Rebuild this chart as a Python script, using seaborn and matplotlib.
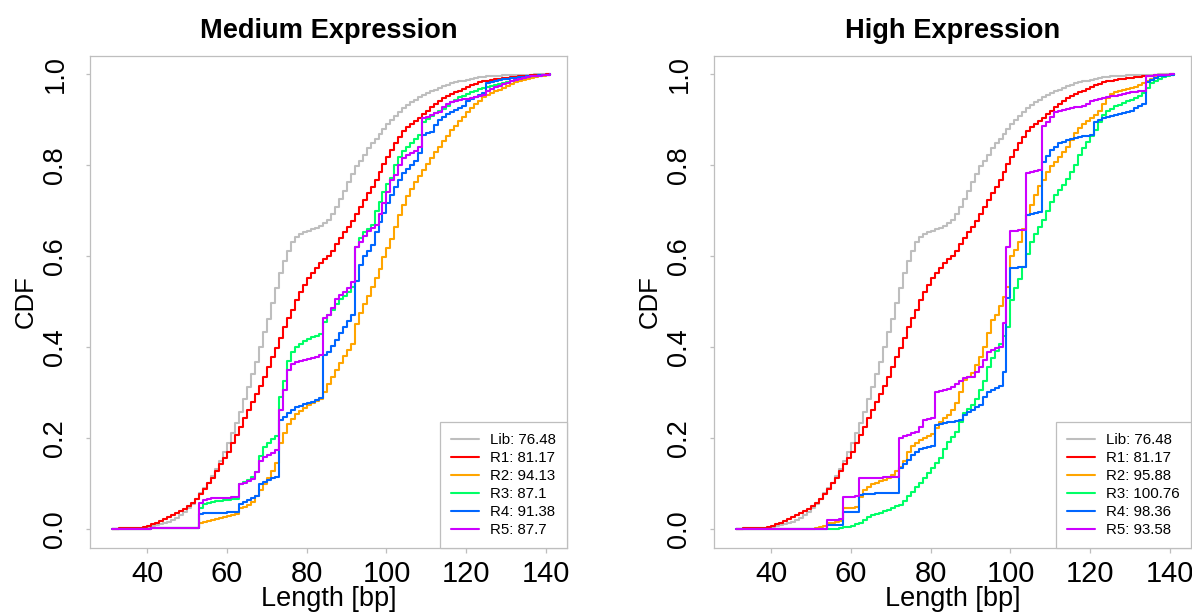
import matplotlib
matplotlib.use("Agg")
import matplotlib.pyplot as plt
from matplotlib.lines import Line2D
from matplotlib import font_manager
import numpy as np
import pandas as pd
import seaborn as sns

# ---------------- data ----------------
lengths = list(range(31, 142))  # read-length in bp

lib_cdf = [
    0.000, 0.000, 0.001, 0.001, 0.001, 0.002, 0.002, 0.003, 0.003, 0.004,
    0.006, 0.008, 0.010, 0.013, 0.016, 0.020, 0.025, 0.030, 0.037, 0.045,
    0.054, 0.065, 0.078, 0.090, 0.102, 0.116, 0.132, 0.150, 0.170, 0.190,
    0.210, 0.232, 0.258, 0.285, 0.313, 0.340, 0.368, 0.400, 0.432, 0.462,
    0.497, 0.530, 0.562, 0.590, 0.612, 0.630, 0.642, 0.648, 0.652, 0.656,
    0.659, 0.662, 0.666, 0.672, 0.680, 0.692, 0.708, 0.725, 0.743, 0.762,
    0.780, 0.797, 0.810, 0.823, 0.837, 0.848, 0.858, 0.868, 0.879, 0.890,
    0.900, 0.909, 0.917, 0.925, 0.932, 0.938, 0.944, 0.949, 0.954, 0.958,
    0.962, 0.966, 0.970, 0.974, 0.977, 0.980, 0.982, 0.984, 0.986, 0.988,
    0.990, 0.992, 0.993, 0.994, 0.995, 0.996, 0.997, 0.997, 0.998, 0.998,
    0.998, 0.999, 0.999, 0.999, 0.999, 0.999, 1.000, 1.000, 1.000, 1.000, 1.000,
]

r1_cdf = [
    0.000, 0.000, 0.001, 0.001, 0.001, 0.002, 0.002, 0.003, 0.004, 0.006,
    0.010, 0.014, 0.018, 0.022, 0.026, 0.030, 0.034, 0.039, 0.044, 0.050,
    0.057, 0.066, 0.076, 0.088, 0.100, 0.112, 0.127, 0.142, 0.156, 0.170,
    0.188, 0.207, 0.225, 0.243, 0.261, 0.278, 0.296, 0.315, 0.335, 0.356,
    0.377, 0.397, 0.420, 0.443, 0.463, 0.482, 0.503, 0.522, 0.537, 0.551,
    0.563, 0.574, 0.584, 0.593, 0.601, 0.612, 0.626, 0.640, 0.652, 0.665,
    0.678, 0.692, 0.708, 0.724, 0.739, 0.753, 0.768, 0.785, 0.802, 0.818,
    0.833, 0.848, 0.862, 0.874, 0.883, 0.890, 0.897, 0.904, 0.912, 0.920,
    0.928, 0.935, 0.941, 0.947, 0.952, 0.956, 0.960, 0.964, 0.968, 0.972,
    0.976, 0.979, 0.982, 0.984, 0.986, 0.987, 0.989, 0.990, 0.991, 0.992,
    0.993, 0.994, 0.995, 0.996, 0.997, 0.998, 0.998, 0.999, 0.999, 1.000, 1.000,
]

# ---- Medium Expression ----
med_r2_cdf = [
    0.000, 0.000, 0.000, 0.000, 0.000, 0.000, 0.000, 0.000, 0.000, 0.000,
    0.001, 0.001, 0.001, 0.001, 0.001, 0.001, 0.001, 0.001, 0.001, 0.001,
    0.001, 0.001, 0.014, 0.016, 0.018, 0.020, 0.022, 0.024, 0.027, 0.029,
    0.031, 0.033, 0.045, 0.049, 0.053, 0.060, 0.072, 0.085, 0.098, 0.112,
    0.128, 0.145, 0.188, 0.210, 0.230, 0.242, 0.252, 0.260, 0.266, 0.272,
    0.277, 0.281, 0.286, 0.300, 0.318, 0.335, 0.350, 0.365, 0.380, 0.393,
    0.407, 0.450, 0.475, 0.495, 0.513, 0.532, 0.552, 0.572, 0.597, 0.618,
    0.637, 0.665, 0.690, 0.713, 0.733, 0.748, 0.762, 0.776, 0.790, 0.803,
    0.816, 0.828, 0.840, 0.852, 0.865, 0.877, 0.887, 0.897, 0.906, 0.916,
    0.925, 0.934, 0.942, 0.949, 0.954, 0.958, 0.962, 0.966, 0.970, 0.974,
    0.978, 0.982, 0.985, 0.988, 0.990, 0.992, 0.993, 0.995, 0.997, 0.998, 1.000,
]

med_r3_cdf = [
    0.000, 0.000, 0.000, 0.000, 0.000, 0.000, 0.000, 0.000, 0.000, 0.000,
    0.002, 0.002, 0.002, 0.002, 0.002, 0.002, 0.002, 0.002, 0.002, 0.002,
    0.002, 0.002, 0.045, 0.055, 0.058, 0.060, 0.061, 0.062, 0.063, 0.064,
    0.065, 0.066, 0.098, 0.104, 0.108, 0.115, 0.125, 0.160, 0.180, 0.190,
    0.197, 0.205, 0.290, 0.325, 0.370, 0.388, 0.400, 0.407, 0.413, 0.418,
    0.422, 0.425, 0.428, 0.456, 0.470, 0.482, 0.494, 0.505, 0.513, 0.522,
    0.532, 0.620, 0.640, 0.652, 0.660, 0.668, 0.700, 0.718, 0.742, 0.758,
    0.772, 0.800, 0.818, 0.832, 0.840, 0.848, 0.858, 0.866, 0.895, 0.902,
    0.908, 0.914, 0.919, 0.924, 0.931, 0.938, 0.944, 0.949, 0.953, 0.957,
    0.961, 0.964, 0.967, 0.970, 0.972, 0.974, 0.976, 0.978, 0.981, 0.983,
    0.985, 0.988, 0.990, 0.992, 0.994, 0.995, 0.996, 0.997, 0.998, 0.999, 1.000,
]

med_r4_cdf = [
    0.000, 0.000, 0.000, 0.000, 0.000, 0.000, 0.000, 0.000, 0.000, 0.000,
    0.002, 0.002, 0.002, 0.002, 0.002, 0.002, 0.002, 0.002, 0.002, 0.002,
    0.002, 0.002, 0.032, 0.034, 0.035, 0.035, 0.036, 0.036, 0.036, 0.037,
    0.037, 0.037, 0.055, 0.060, 0.064, 0.068, 0.072, 0.098, 0.104, 0.108,
    0.112, 0.115, 0.240, 0.247, 0.254, 0.262, 0.267, 0.271, 0.274, 0.277,
    0.280, 0.283, 0.287, 0.382, 0.390, 0.402, 0.415, 0.430, 0.443, 0.458,
    0.470, 0.545, 0.580, 0.600, 0.612, 0.624, 0.652, 0.675, 0.695, 0.716,
    0.735, 0.752, 0.768, 0.782, 0.792, 0.800, 0.808, 0.826, 0.866, 0.870,
    0.873, 0.888, 0.900, 0.906, 0.912, 0.917, 0.922, 0.926, 0.930, 0.940,
    0.946, 0.950, 0.954, 0.958, 0.980, 0.983, 0.985, 0.987, 0.989, 0.990,
    0.991, 0.992, 0.993, 0.994, 0.995, 0.996, 0.997, 0.998, 0.999, 0.999, 1.000,
]

med_r5_cdf = [
    0.000, 0.000, 0.000, 0.000, 0.000, 0.000, 0.000, 0.000, 0.000, 0.000,
    0.002, 0.002, 0.002, 0.002, 0.002, 0.002, 0.002, 0.002, 0.002, 0.002,
    0.002, 0.002, 0.058, 0.064, 0.066, 0.067, 0.068, 0.068, 0.069, 0.069,
    0.070, 0.070, 0.099, 0.102, 0.105, 0.110, 0.125, 0.150, 0.158, 0.163,
    0.168, 0.174, 0.262, 0.305, 0.350, 0.362, 0.367, 0.370, 0.372, 0.374,
    0.376, 0.379, 0.382, 0.463, 0.470, 0.485, 0.505, 0.515, 0.522, 0.530,
    0.542, 0.620, 0.632, 0.645, 0.656, 0.662, 0.668, 0.692, 0.716, 0.740,
    0.768, 0.778, 0.800, 0.815, 0.822, 0.827, 0.832, 0.840, 0.903, 0.906,
    0.910, 0.914, 0.917, 0.928, 0.934, 0.939, 0.942, 0.944, 0.945, 0.946,
    0.948, 0.950, 0.952, 0.954, 0.964, 0.968, 0.972, 0.975, 0.978, 0.981,
    0.984, 0.988, 0.990, 0.992, 0.993, 0.995, 0.996, 0.997, 0.998, 0.999, 1.000,
]

# ---- High Expression ----
high_r2_cdf = [
    0.000, 0.000, 0.000, 0.000, 0.000, 0.000, 0.000, 0.000, 0.000, 0.000,
    0.000, 0.000, 0.000, 0.000, 0.000, 0.000, 0.000, 0.000, 0.000, 0.000,
    0.002, 0.004, 0.007, 0.012, 0.014, 0.016, 0.018, 0.045, 0.046, 0.047,
    0.048, 0.070, 0.085, 0.093, 0.098, 0.102, 0.105, 0.108, 0.112, 0.118,
    0.127, 0.137, 0.150, 0.170, 0.182, 0.190, 0.196, 0.200, 0.204, 0.208,
    0.222, 0.235, 0.243, 0.250, 0.262, 0.276, 0.300, 0.327, 0.335, 0.342,
    0.360, 0.379, 0.400, 0.430, 0.460, 0.470, 0.490, 0.510, 0.533, 0.600,
    0.613, 0.630, 0.660, 0.690, 0.712, 0.735, 0.755, 0.767, 0.785, 0.798,
    0.807, 0.818, 0.829, 0.840, 0.855, 0.870, 0.882, 0.890, 0.897, 0.904,
    0.910, 0.920, 0.935, 0.948, 0.957, 0.960, 0.963, 0.966, 0.968, 0.970,
    0.972, 0.976, 0.981, 0.986, 0.990, 0.993, 0.995, 0.997, 0.998, 0.999, 1.000,
]

high_r3_cdf = [
    0.000, 0.000, 0.000, 0.000, 0.000, 0.000, 0.000, 0.000, 0.000, 0.000,
    0.000, 0.000, 0.000, 0.000, 0.000, 0.000, 0.000, 0.000, 0.000, 0.000,
    0.000, 0.000, 0.000, 0.000, 0.000, 0.000, 0.002, 0.004, 0.005, 0.007,
    0.010, 0.013, 0.020, 0.027, 0.030, 0.033, 0.036, 0.039, 0.042, 0.046,
    0.050, 0.053, 0.062, 0.072, 0.082, 0.093, 0.102, 0.112, 0.122, 0.134,
    0.145, 0.157, 0.175, 0.192, 0.203, 0.214, 0.235, 0.254, 0.264, 0.273,
    0.285, 0.305, 0.326, 0.356, 0.375, 0.392, 0.406, 0.425, 0.445, 0.503,
    0.530, 0.550, 0.575, 0.605, 0.632, 0.648, 0.663, 0.680, 0.700, 0.720,
    0.734, 0.745, 0.756, 0.770, 0.785, 0.800, 0.822, 0.838, 0.850, 0.865,
    0.878, 0.895, 0.910, 0.918, 0.924, 0.929, 0.933, 0.937, 0.940, 0.944,
    0.947, 0.951, 0.958, 0.970, 0.980, 0.985, 0.990, 0.993, 0.996, 0.998, 1.000,
]

high_r4_cdf = [
    0.000, 0.000, 0.000, 0.000, 0.000, 0.000, 0.000, 0.000, 0.000, 0.000,
    0.000, 0.000, 0.000, 0.000, 0.000, 0.000, 0.000, 0.000, 0.000, 0.000,
    0.000, 0.000, 0.000, 0.009, 0.009, 0.009, 0.009, 0.038, 0.038, 0.038,
    0.038, 0.075, 0.076, 0.077, 0.077, 0.078, 0.078, 0.079, 0.079, 0.080,
    0.080, 0.133, 0.142, 0.152, 0.162, 0.170, 0.176, 0.178, 0.180, 0.182,
    0.229, 0.231, 0.233, 0.234, 0.236, 0.238, 0.240, 0.250, 0.256, 0.262,
    0.268, 0.273, 0.290, 0.300, 0.305, 0.310, 0.315, 0.345, 0.507, 0.573,
    0.574, 0.575, 0.577, 0.690, 0.692, 0.694, 0.696, 0.807, 0.820, 0.833,
    0.840, 0.848, 0.851, 0.855, 0.857, 0.859, 0.861, 0.863, 0.865, 0.867,
    0.895, 0.900, 0.904, 0.906, 0.908, 0.910, 0.912, 0.914, 0.917, 0.920,
    0.925, 0.930, 0.935, 0.983, 0.988, 0.992, 0.995, 0.997, 0.998, 0.999, 1.000,
]

high_r5_cdf = [
    0.000, 0.000, 0.000, 0.000, 0.000, 0.000, 0.000, 0.000, 0.000, 0.000,
    0.000, 0.000, 0.000, 0.000, 0.000, 0.000, 0.000, 0.000, 0.000, 0.000,
    0.000, 0.000, 0.000, 0.020, 0.020, 0.020, 0.021, 0.070, 0.071, 0.071,
    0.072, 0.111, 0.111, 0.112, 0.112, 0.113, 0.113, 0.114, 0.114, 0.115,
    0.115, 0.200, 0.204, 0.207, 0.210, 0.214, 0.225, 0.240, 0.242, 0.244,
    0.302, 0.304, 0.306, 0.308, 0.312, 0.318, 0.325, 0.331, 0.333, 0.335,
    0.345, 0.357, 0.372, 0.390, 0.394, 0.397, 0.399, 0.452, 0.620, 0.656,
    0.656, 0.657, 0.657, 0.783, 0.785, 0.787, 0.789, 0.886, 0.895, 0.905,
    0.917, 0.919, 0.921, 0.923, 0.925, 0.927, 0.928, 0.930, 0.935, 0.940,
    0.943, 0.946, 0.948, 0.950, 0.951, 0.952, 0.954, 0.956, 0.958, 0.960,
    0.961, 0.962, 0.964, 0.997, 0.997, 0.998, 0.998, 0.999, 0.999, 1.000, 1.000,
]

series_names = ["Lib", "R1", "R2", "R3", "R4", "R5"]
medium_means = ["76.48", "81.17", "94.13", "87.1", "91.38", "87.7"]
high_means = ["76.48", "81.17", "95.88", "100.76", "98.36", "93.58"]
series_colors = ["#BEBEBE", "#FF0000", "#FFA500", "#00FF66", "#0066FF", "#CC00FF"]

x_ticks = [40, 60, 80, 100, 120, 140]
y_ticks = [0.0, 0.2, 0.4, 0.6, 0.8, 1.0]
y_tick_labels = ["0.0", "0.2", "0.4", "0.6", "0.8", "1.0"]

panels = [
    ("Medium Expression", medium_means,
     [lib_cdf, r1_cdf, med_r2_cdf, med_r3_cdf, med_r4_cdf, med_r5_cdf]),
    ("High Expression", high_means,
     [lib_cdf, r1_cdf, high_r2_cdf, high_r3_cdf, high_r4_cdf, high_r5_cdf]),
]

# ---------------- style ----------------
sns.set_style("white")
plt.rcParams["font.family"] = ["Liberation Sans", "DejaVu Sans"]
plt.rcParams["text.color"] = "black"
plt.rcParams["axes.labelcolor"] = "black"

installed = {f.name for f in font_manager.fontManager.ttflist}
if "Liberation Sans Narrow" in installed:
    XT_FAMILY, XT_SIZE = ["Liberation Sans Narrow", "Liberation Sans"], 25.5
else:
    XT_FAMILY, XT_SIZE = ["Liberation Sans", "DejaVu Sans"], 21

FRAME = "#BEBEBE"
W, H = 1192, 612
fig = plt.figure(figsize=(W / 100, H / 100), dpi=100)
fig.patch.set_facecolor("white")

ax_boxes = [(90, 56, 567, 548), (714, 56, 1191, 548)]

for (title, means, curves), (l, t, r, b) in zip(panels, ax_boxes):
    ax = fig.add_axes([l / W, 1 - b / H, (r - l) / W, (b - t) / H])
    ax.set_facecolor("white")

    rows = []
    for name, vals in zip(series_names, curves):
        for L, v in zip(lengths, vals):
            rows.append((name, L, v))
    df = pd.DataFrame(rows, columns=["series", "length", "cdf"])

    sns.lineplot(data=df, x="length", y="cdf", hue="series",
                 hue_order=series_names, palette=series_colors,
                 estimator=None, drawstyle="steps-post",
                 linewidth=1.5, legend=False, ax=ax)

    ax.set_xlim(25.6, 145.3)
    ax.set_ylim(-0.042, 1.04)
    ax.set_xticks(x_ticks)
    ax.set_xticklabels([str(v) for v in x_ticks], family=XT_FAMILY,
                       fontsize=XT_SIZE, color="black")
    ax.set_yticks(y_ticks)
    ax.set_yticklabels(y_tick_labels, fontsize=19.5, color="black",
                       rotation=90, va="center")

    for s in ax.spines.values():
        s.set_color(FRAME)
        s.set_linewidth(0.9)

    ax.tick_params(axis="both", which="major", direction="out", color=FRAME,
                   width=0.9, length=3, labelcolor="black",
                   bottom=True, left=True)
    ax.tick_params(axis="x", pad=5.0, length=3.5)
    ax.tick_params(axis="y", pad=12.5)

    ax.set_xlabel("Length [bp]", fontsize=19.5, color="black")
    ax.xaxis.set_label_coords(0.5, -0.077)
    ax.set_ylabel("CDF", fontsize=18.5, color="black")
    ax.yaxis.set_label_coords(-0.109, 0.5)
    ax.set_title(title, fontsize=19.6, fontweight="bold", pad=13, color="black")
    ax.grid(False)

    handles = [Line2D([0], [0], color=c, lw=1.5) for c in series_colors]
    labels = [f"{n}: {m}" for n, m in zip(series_names, means)]
    leg = ax.legend(handles, labels, loc="lower right",
                    bbox_to_anchor=(1.0, 0.0), borderaxespad=0.0,
                    fontsize=10.8, frameon=True, fancybox=False,
                    framealpha=1.0, edgecolor=FRAME, handlelength=1.85,
                    handletextpad=0.75, borderpad=0.73, labelspacing=0.27)
    leg.get_frame().set_linewidth(0.9)
    for txt in leg.get_texts():
        txt.set_color("black")

fig.savefig("out.png", dpi=100, facecolor="white")
